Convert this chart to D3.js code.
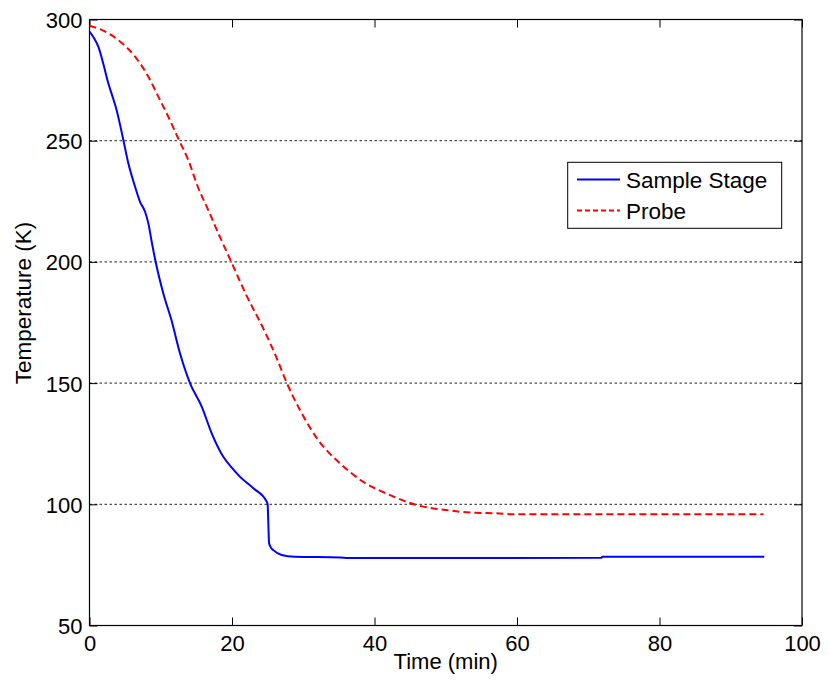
<!DOCTYPE html>
<html>
<head>
<meta charset="utf-8">
<script src="https://cdn.jsdelivr.net/npm/d3@7"></script>
<style>
  html, body { margin: 0; padding: 0; background: #fff; }
  svg { display: block; font-family: "Liberation Sans", Arial, sans-serif; }
</style>
</head>
<body>
<div id="chart"></div>
<script>
// ---- Data ----
const stageTime = [0, 0.6, 1.24, 2, 2.64, 3.2, 3.8, 4.75, 5.45, 6.4, 7.09, 7.8, 8.26, 8.73, 9.25, 10.36, 11.5, 12.7, 14.1, 15.75, 17.15, 18.78, 20, 21.1, 23, 24.87, 25.0, 25.1, 25.2, 25.5, 25.8, 26.97, 28.8, 35.2, 36.3, 71.8, 72, 94.7];
const stageTemp = [295, 292.5, 288.8, 281, 273.7, 268.5, 262.7, 250.3, 240.7, 231, 224.8, 220.7, 215.9, 208.3, 200.5, 187, 176, 162.3, 150, 140.3, 129.3, 119.6, 115, 111.4, 106.6, 101.1, 100, 92, 84, 82, 81.1, 79.1, 78.4, 78.1, 77.8, 77.9, 78.4, 78.4];

const probeTime = [0, 1.7, 4.05, 6.4, 8.26, 9.66, 11.06, 12.6, 13.87, 15.2, 16.67, 18.08, 19.9, 22.06, 24.4, 26.1, 27.7, 29.8, 32.1, 35.16, 38.4, 42.2, 45.9, 48.25, 50.1, 52.9, 57.6, 59.5, 94.6];
const probeTemp = [297.4, 295.7, 291.5, 284.7, 276.4, 268.2, 259.9, 250, 242, 231, 221.4, 211.8, 200, 186, 172.5, 161.5, 150, 137.5, 126.5, 116.9, 109.3, 103.8, 99.7, 98.3, 97.6, 96.7, 96.2, 95.9, 95.9];

const xTicks = [0, 20, 40, 60, 80, 100];
const yTicks = [50, 100, 150, 200, 250, 300];
const gridValues = [100, 150, 200, 250];
const seriesNames = ["Sample Stage", "Probe"];
const xLabel = "Time (min)";
const yLabel = "Temperature (K)";

// ---- Layout ----
const W = 829, H = 687;
const pL = 89.5, pT = 19.5, pR = 802, pB = 625.5;

const svg = d3.select("#chart").append("svg").attr("width", W).attr("height", H);

const x = d3.scaleLinear().domain([0, 100]).range([pL, pR]);
const y = d3.scaleLinear().domain([50, 300]).range([pB, pT]);

// gridlines
svg.append("g").selectAll("line").data(gridValues).join("line")
  .attr("x1", pL).attr("x2", pR)
  .attr("y1", d => y(d)).attr("y2", d => y(d))
  .attr("stroke", "#222").attr("stroke-width", 1)
  .attr("stroke-dasharray", "2.5,2.5");

// axes with inward ticks
const tickLen = 8;
const fontSize = 22;
const gx = svg.append("g").attr("transform", `translate(0,${pB})`)
  .call(d3.axisBottom(x).tickValues(xTicks).tickSize(-tickLen).tickPadding(10).tickSizeOuter(0));
const gxTop = svg.append("g").attr("transform", `translate(0,${pT})`)
  .call(d3.axisTop(x).tickValues(xTicks).tickSize(-tickLen).tickFormat("").tickSizeOuter(0));
const gy = svg.append("g").attr("transform", `translate(${pL},0)`)
  .call(d3.axisLeft(y).tickValues(yTicks).tickSize(-tickLen).tickPadding(7).tickSizeOuter(0));
const gyRight = svg.append("g").attr("transform", `translate(${pR},0)`)
  .call(d3.axisRight(y).tickValues(yTicks).tickSize(-tickLen).tickFormat("").tickSizeOuter(0));

[gx, gxTop, gy, gyRight].forEach(g => {
  g.select(".domain").remove();
  g.selectAll(".tick line").attr("stroke", "#000").attr("stroke-width", 1);
  g.selectAll("text").attr("font-size", fontSize).attr("fill", "#000")
    .attr("font-family", '"Liberation Sans", Arial, sans-serif');
});
gy.selectAll("text").attr("dy", "0.36em");

// box
svg.append("rect").attr("x", pL).attr("y", pT)
  .attr("width", pR - pL).attr("height", pB - pT)
  .attr("fill", "none").attr("stroke", "#000").attr("stroke-width", 1.2);

// lines
const line = d3.line().x(d => x(d[0])).y(d => y(d[1])).curve(d3.curveMonotoneX);
const stage = stageTime.map((t, i) => [t, stageTemp[i]]);
const probe = probeTime.map((t, i) => [t, probeTemp[i]]);

svg.append("path").datum(probe).attr("d", line)
  .attr("fill", "none").attr("stroke", "#ff0000").attr("stroke-width", 2)
  .attr("stroke-dasharray", "7,4");
svg.append("path").datum(stage).attr("d", line)
  .attr("fill", "none").attr("stroke", "#0000ff").attr("stroke-width", 2);

// axis labels
svg.append("text").attr("x", (pL + pR) / 2).attr("y", 669)
  .attr("text-anchor", "middle").attr("font-size", 22).text(xLabel);
svg.append("text").attr("transform", `translate(31,303) rotate(-90)`)
  .attr("text-anchor", "middle").attr("font-size", 22.5).text(yLabel);

// legend
const lg = svg.append("g");
lg.append("rect").attr("x", 567.7).attr("y", 162.3).attr("width", 214).attr("height", 66)
  .attr("fill", "#fff").attr("stroke", "#000").attr("stroke-width", 1);
const legendItems = [
  { name: seriesNames[0], color: "#0000ff", dash: null, yy: 179.5 },
  { name: seriesNames[1], color: "#ff0000", dash: "5,3", yy: 210.5 }
];
legendItems.forEach(it => {
  lg.append("line").attr("x1", 577).attr("x2", 620).attr("y1", it.yy).attr("y2", it.yy)
    .attr("stroke", it.color).attr("stroke-width", 2)
    .attr("stroke-dasharray", it.dash);
  lg.append("text").attr("x", 626).attr("y", it.yy + 8)
    .attr("font-size", 22.5).text(it.name);
});
</script>
</body>
</html>
